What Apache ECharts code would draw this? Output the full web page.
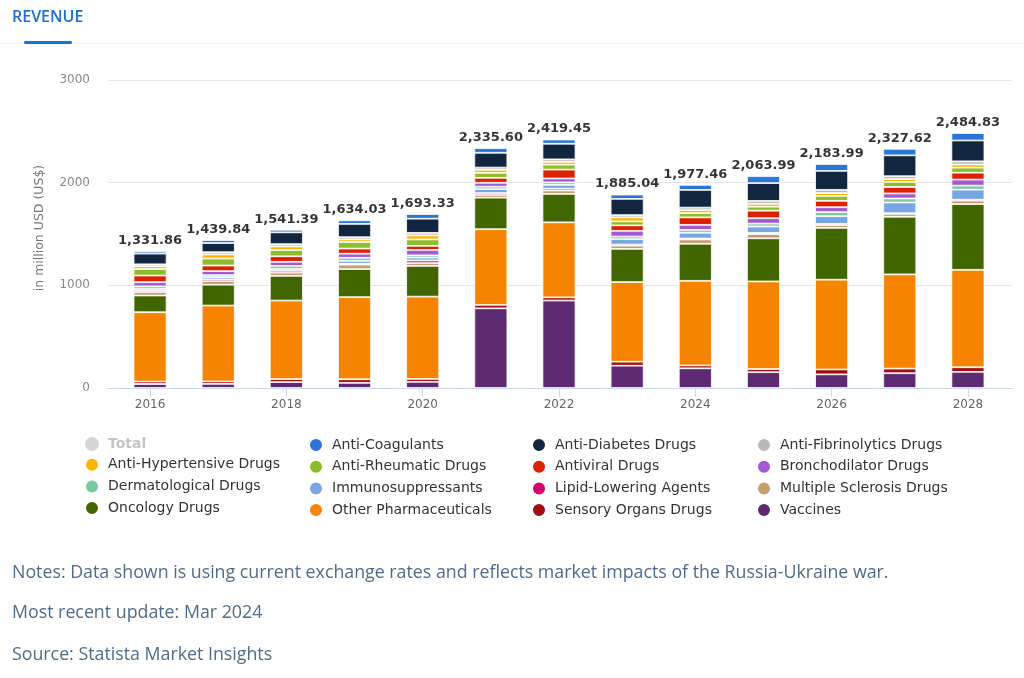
<!DOCTYPE html>
<html>
<head>
<meta charset="utf-8">
<title>Revenue</title>
<script src="https://cdn.jsdelivr.net/npm/echarts@6/dist/echarts.min.js"></script>
<style>
  html, body { margin: 0; padding: 0; background: #fff; }
  #chart { width: 1024px; height: 678px; }
</style>
</head>
<body>
<div id="chart"></div>
<script>
// revenue by drug class, million USD
var years = ['2016', '2017', '2018', '2019', '2020', '2021', '2022', '2023', '2024', '2025', '2026', '2027', '2028'];
var totals = [1331.86, 1439.84, 1541.39, 1634.03, 1693.33, 2335.60, 2419.45, 1885.04, 1977.46, 2063.99, 2183.99, 2327.62, 2484.83];

var antiCoagulants    = [21, 29, 25, 35, 45, 45, 41, 42, 49, 67, 67, 63, 73];
var antiDiabetes      = [104, 89, 115, 129, 138, 144, 152, 158, 172, 174, 185, 203, 203];
var antiFibrinolytics = [19, 22, 22, 22, 25, 21, 24, 22, 25, 28, 31, 28, 31];
var antiHypertensive  = [27, 40, 35, 25, 39, 31, 28, 39, 28, 28, 28, 28, 31];
var antiRheumatic     = [64, 68, 61, 64, 63, 48, 48, 39, 42, 39, 48, 49, 49];
var antiviral         = [64, 54, 54, 50, 39, 48, 86, 53, 73, 73, 62, 63, 67];
var bronchodilator    = [41, 40, 40, 40, 53, 38, 38, 56, 49, 53, 48, 49, 59];
var dermatological    = [24, 19, 29, 29, 22, 24, 24, 25, 28, 28, 39, 39, 39];
var immunosuppressants = [15, 21, 18, 29, 28, 38, 38, 53, 56, 62, 76, 105, 98];
var lipidLowering     = [16, 18, 18, 9, 25, 17, 17, 11, 9, 11, 11, 6, 9];
var multipleSclerosis = [34, 35, 32, 43, 28, 28, 34, 31, 42, 42, 28, 28, 34];
var oncology          = [163, 203, 240, 273, 299, 307, 276, 323, 361, 420, 504, 561, 640];
var otherPharma       = [675, 739, 765, 800, 802, 737, 731, 776, 824, 853, 874, 918, 949];
var sensoryOrgans     = [24, 24, 29, 35, 28, 34, 31, 39, 28, 31, 48, 45, 45];
var vaccines          = [39, 40, 58, 50, 60, 776, 852, 217, 192, 154, 133, 144, 157];

var yTicks = [0, 1000, 2000, 3000];

// bottom of the stack first
var stackOrder = [
	['Vaccines', vaccines, '#5e2a72'],
	['Sensory Organs Drugs', sensoryOrgans, '#a30d10'],
	['Other Pharmaceuticals', otherPharma, '#f68400'],
	['Oncology Drugs', oncology, '#416600'],
	['Multiple Sclerosis Drugs', multipleSclerosis, '#c79c6e'],
	['Lipid-Lowering Agents', lipidLowering, '#d8006c'],
	['Immunosuppressants', immunosuppressants, '#77a6e3'],
	['Dermatological Drugs', dermatological, '#7ac99c'],
	['Bronchodilator Drugs', bronchodilator, '#a25ad3'],
	['Antiviral Drugs', antiviral, '#dc2000'],
	['Anti-Rheumatic Drugs', antiRheumatic, '#8cbd2c'],
	['Anti-Hypertensive Drugs', antiHypertensive, '#ffb400'],
	['Anti-Fibrinolytics Drugs', antiFibrinolytics, '#b8b8b8'],
	['Anti-Diabetes Drugs', antiDiabetes, '#12263f'],
	['Anti-Coagulants', antiCoagulants, '#2a75d8']
];

var legendCols = [
	['Total', 'Anti-Hypertensive Drugs', 'Dermatological Drugs', 'Oncology Drugs'],
	['Anti-Coagulants', 'Anti-Rheumatic Drugs', 'Immunosuppressants', 'Other Pharmaceuticals'],
	['Anti-Diabetes Drugs', 'Antiviral Drugs', 'Lipid-Lowering Agents', 'Sensory Organs Drugs'],
	['Anti-Fibrinolytics Drugs', 'Bronchodilator Drugs', 'Multiple Sclerosis Drugs', 'Vaccines']
];
var legendLeft = [84, 308, 531, 756];

function fmt(v) {
	var s = v.toFixed(2).split('.');
	return s[0].replace(/\B(?=(\d{3})+(?!\d))/g, ',') + '.' + s[1];
}

function genOption() {
	var series = [];
	stackOrder.forEach(function (s) {
		series.push({
			name : s[0],
			type : 'bar',
			stack : 'rev',
			barWidth : 33,
			xAxisIndex : 0,
			yAxisIndex : 0,
			itemStyle : { color : s[2], borderColor : '#fff', borderWidth : 0.8 },
			data : s[1]
		});
	});
	series.push({
		name : 'Total',
		type : 'scatter',
		symbolSize : 0,
		xAxisIndex : 0,
		yAxisIndex : 0,
		itemStyle : { color : '#cccccc' },
		label : {
			show : true,
			position : 'top',
			distance : 4,
			fontFamily : 'DejaVu Sans',
			fontWeight : 'bold',
			fontSize : 13,
			color : '#000',
			formatter : function (p) { return fmt(p.value); }
		},
		data : totals
	});

	var legends = legendCols.map(function (col, i) {
		return {
			orient : 'vertical',
			left : legendLeft[i],
			top : 437,
			padding : 0,
			itemWidth : 14,
			itemHeight : 14,
			itemGap : 5.7,
			icon : 'circle',
			textStyle : { fontFamily : 'DejaVu Sans', fontSize : 14, lineHeight : 14, color : '#333', padding : [0, 0, 0, 4] },
			data : col.map(function (n) {
				if (n === 'Total') {
					return { name : n, itemStyle : { color : '#cccccc' }, textStyle : { color : '#c4c4c4', fontWeight : 'bold' } };
				}
				return n;
			})
		};
	});

	var option = {
		animation : false,
		backgroundColor : '#fff',
		legend : legends,
		grid : [
			{ left : 116, right : 22, top : 80, bottom : 290 },
			{ left : 108, right : 12, top : 80, bottom : 290 }
		],
		xAxis : [ {
			type : 'category',
			gridIndex : 0,
			data : years,
			axisLine : { show : false },
			axisTick : { show : true, alignWithLabel : true, interval : 1, length : 9, lineStyle : { color : '#ccd6eb' } },
			axisLabel : { interval : 1, margin : 11, fontFamily : 'DejaVu Sans', fontSize : 12, color : '#666' }
		}, {
			type : 'category',
			gridIndex : 1,
			data : years,
			axisLine : { show : true, lineStyle : { color : '#ccd6eb' } },
			axisTick : { show : false },
			axisLabel : { show : false }
		} ],
		yAxis : [ {
			type : 'value',
			gridIndex : 0,
			min : yTicks[0],
			max : yTicks[yTicks.length - 1],
			interval : 1000,
			name : 'in million USD (US$)',
			nameLocation : 'middle',
			nameGap : 70,
			nameTextStyle : { fontFamily : 'DejaVu Sans', fontSize : 12.5, color : '#777', padding : [0, 0, 0, 12] },
			splitLine : { show : false },
			axisLabel : {
				margin : 26, fontFamily : 'DejaVu Sans', fontSize : 12, color : '#888',
				formatter : function (v) { return String(v); }
			}
		}, {
			type : 'value',
			gridIndex : 1,
			min : yTicks[0],
			max : yTicks[yTicks.length - 1],
			interval : 1000,
			axisLabel : { show : false },
			splitLine : { lineStyle : { color : '#e6e6e6' } }
		} ],
		graphic : [
			{ type : 'rect', left : 0, top : 43, shape : { width : 1024, height : 1 }, style : { fill : '#f0f2f7' } },
			{ type : 'text', left : 12, top : 9, style : { text : 'REVENUE', fontFamily : 'Open Sans', fontWeight : 600, fontSize : 16, fill : '#1b6fdb' } },
			{ type : 'rect', left : 24, top : 41, shape : { width : 48, height : 3, r : 1.5 }, style : { fill : '#1b6fdb' } },
			{ type : 'text', left : 12, top : 564, style : { text : 'Notes: Data shown is using current exchange rates and reflects market impacts of the Russia-Ukraine war.', fontFamily : 'Open Sans', fontSize : 17.8, fill : '#4f6b8c' } },
			{ type : 'text', left : 12, top : 604, style : { text : 'Most recent update: Mar 2024', fontFamily : 'Open Sans', fontSize : 17.8, fill : '#4f6b8c' } },
			{ type : 'text', left : 12, top : 646, style : { text : 'Source: Statista Market Insights', fontFamily : 'Open Sans', fontSize : 17.8, fill : '#4f6b8c' } }
		],
		series : series
	};
	return option;
}

var chart = echarts.init(document.getElementById('chart'));
chart.setOption(genOption(), true);
</script>
</body>
</html>
